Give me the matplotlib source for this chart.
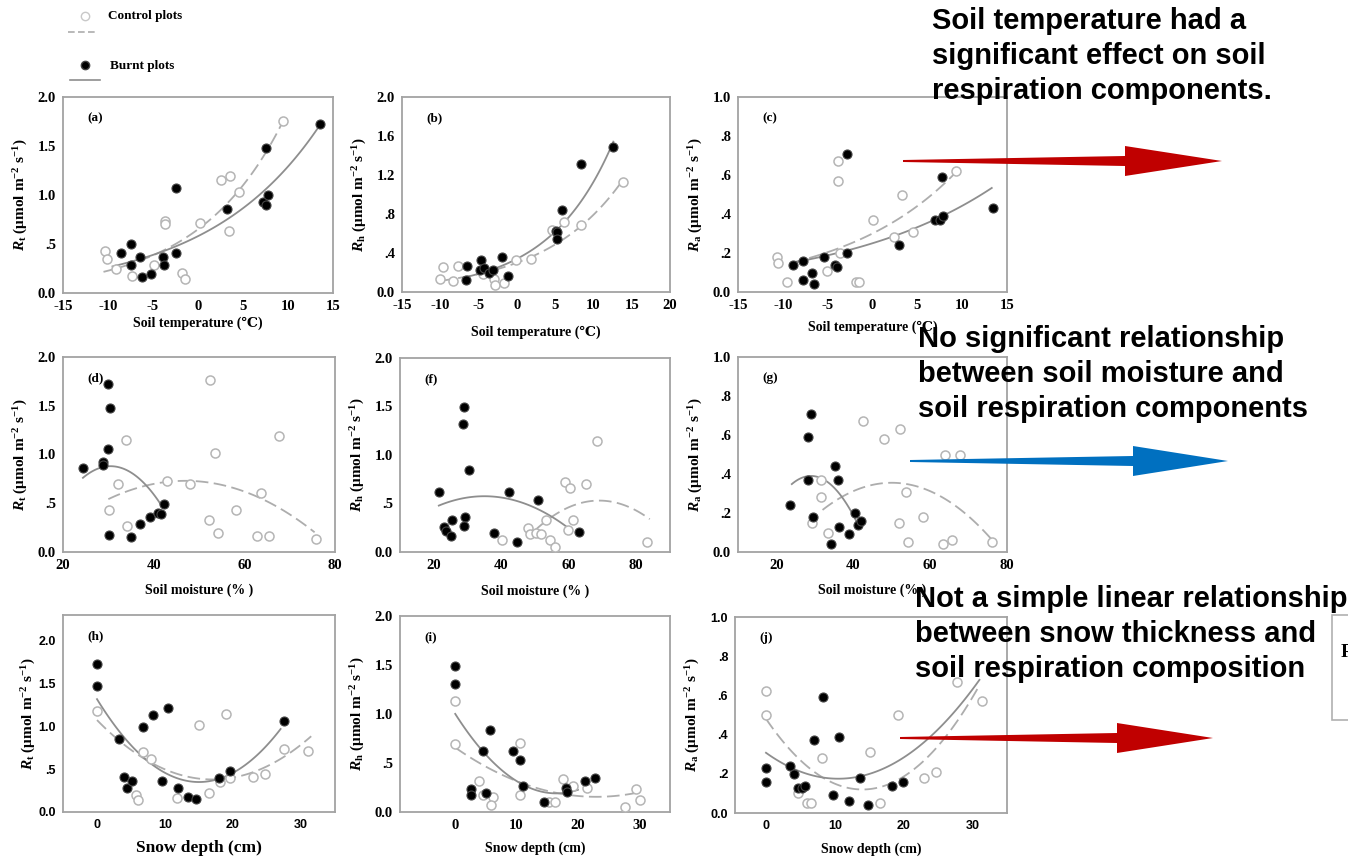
import numpy as np
import matplotlib.pyplot as plt
from matplotlib.lines import Line2D
from matplotlib.patches import Polygon, Rectangle

plt.rcParams['mathtext.fontset'] = 'custom'
plt.rcParams['mathtext.rm'] = 'Liberation Serif:bold'
plt.rcParams['mathtext.it'] = 'Liberation Serif:italic:bold'
plt.rcParams['mathtext.bf'] = 'Liberation Serif:bold'

W, H = 1348, 861
SERIF = ['Liberation Serif', 'DejaVu Serif']
SANS = ['Liberation Sans', 'DejaVu Sans']

# ---- soil temperature panels (a)-(c) ----
a_ctrl_x = [9.4, 2.5, 3.5, 4.6, 3.4, 0.2, -3.7, -3.7, -10.3, -10.1, -9.1, -7.3, -4.9, -1.8, -1.5]
a_ctrl_y = [1.76, 1.15, 1.19, 1.03, 0.63, 0.71, 0.73, 0.70, 0.43, 0.35, 0.24, 0.17, 0.29, 0.20, 0.14]
a_burn_x = [13.5, 7.5, -2.5, 3.2, 7.2, 7.6, 7.8, -8.6, -7.4, -7.5, -6.5, -6.2, -5.2, -3.9, -3.8, -2.5]
a_burn_y = [1.72, 1.48, 1.07, 0.86, 0.93, 0.90, 1.00, 0.41, 0.50, 0.29, 0.37, 0.16, 0.19, 0.37, 0.29, 0.41]

b_ctrl_x = [13.9, 8.4, 6.1, 4.6, 1.9, -0.1, -9.7, -7.7, -10.0, -8.4, -4.4, -3.0, -2.8, -1.7]
b_ctrl_y = [1.13, 0.69, 0.72, 0.64, 0.34, 0.33, 0.26, 0.27, 0.13, 0.11, 0.18, 0.13, 0.07, 0.09]
b_burn_x = [12.6, 8.4, 5.9, 5.1, 5.3, 5.3, -6.5, -6.7, -4.7, -4.8, -4.3, -3.6, -3.1, -2.0, -1.2]
b_burn_y = [1.49, 1.31, 0.84, 0.63, 0.62, 0.54, 0.27, 0.12, 0.33, 0.23, 0.25, 0.20, 0.23, 0.36, 0.16]

c_ctrl_x = [-3.8, -3.8, 9.3, 3.3, 0.1, 2.4, 4.5, -10.7, -10.5, -9.5, -5.1, -3.6, -1.8, -1.5]
c_ctrl_y = [0.67, 0.57, 0.62, 0.50, 0.37, 0.28, 0.31, 0.18, 0.15, 0.05, 0.11, 0.20, 0.05, 0.05]
c_burn_x = [-2.8, 7.7, 13.4, 7.0, 7.5, 7.9, 2.9, -2.8, -5.4, -7.7, -8.9, -4.2, -4.0, -6.8, -7.7, -6.5]
c_burn_y = [0.71, 0.59, 0.43, 0.37, 0.37, 0.39, 0.24, 0.20, 0.18, 0.16, 0.14, 0.14, 0.13, 0.10, 0.06, 0.04]

# ---- soil moisture panels (d), (f), (g) ----
d_ctrl_x = [52.5, 53.5, 67.7, 33.8, 32.2, 43.0, 48.1, 63.7, 30.2, 58.1, 52.3, 54.2, 62.9, 65.5, 75.8, 34.1]
d_ctrl_y = [1.76, 1.02, 1.19, 1.15, 0.70, 0.73, 0.70, 0.61, 0.43, 0.43, 0.33, 0.20, 0.16, 0.16, 0.13, 0.27]
d_burn_x = [24.4, 28.8, 28.9, 29.9, 29.9, 30.3, 30.2, 35.1, 36.9, 39.1, 41.0, 41.7, 42.2]
d_burn_y = [0.86, 0.92, 0.89, 1.06, 1.72, 1.48, 0.17, 0.15, 0.29, 0.36, 0.40, 0.39, 0.49]

f_ctrl_x = [68.3, 58.8, 60.3, 65.2, 61.2, 53.4, 40.2, 48.0, 48.4, 50.2, 51.7, 54.4, 55.8, 59.7, 83.1]
f_ctrl_y = [1.14, 0.72, 0.66, 0.70, 0.33, 0.33, 0.12, 0.25, 0.19, 0.20, 0.19, 0.12, 0.05, 0.23, 0.10]
f_burn_x = [29.1, 28.6, 30.5, 21.5, 42.4, 50.9, 29.3, 29.1, 25.4, 22.9, 23.6, 25.2, 37.8, 44.7, 63.1]
f_burn_y = [1.49, 1.32, 0.85, 0.62, 0.62, 0.54, 0.36, 0.27, 0.33, 0.26, 0.22, 0.16, 0.20, 0.10, 0.21]

g_ctrl_x = [42.6, 47.9, 52.1, 63.8, 67.8, 31.5, 31.5, 53.6, 52.0, 58.1, 29.3, 33.5, 54.2, 63.4, 65.8, 76.0]
g_ctrl_y = [0.67, 0.58, 0.63, 0.50, 0.50, 0.37, 0.28, 0.31, 0.15, 0.18, 0.15, 0.10, 0.05, 0.04, 0.06, 0.05]
g_burn_x = [29.1, 28.2, 28.1, 35.3, 35.9, 23.5, 29.5, 36.4, 34.3, 38.8, 40.4, 41.1, 41.9]
g_burn_y = [0.71, 0.59, 0.37, 0.44, 0.37, 0.24, 0.18, 0.13, 0.04, 0.09, 0.20, 0.14, 0.16]

# ---- snow depth panels (h)-(j) ----
h_ctrl_x = [0.0, 15.0, 19.0, 6.7, 8.0, 5.7, 6.1, 11.8, 16.5, 18.1, 19.6, 22.9, 24.7, 27.5, 31.1]
h_ctrl_y = [1.18, 1.02, 1.15, 0.70, 0.62, 0.20, 0.14, 0.16, 0.22, 0.35, 0.40, 0.41, 0.44, 0.73, 0.71]
h_burn_x = [0.0, 0.0, 3.3, 3.9, 4.4, 5.2, 6.8, 8.3, 10.4, 9.6, 11.9, 13.4, 14.6, 18.0, 19.6, 27.5]
h_burn_y = [1.73, 1.47, 0.85, 0.41, 0.28, 0.36, 0.99, 1.13, 1.22, 0.36, 0.28, 0.18, 0.15, 0.40, 0.48, 1.06]

i_ctrl_x = [0.0, 0.0, 10.5, 3.8, 4.5, 6.1, 5.8, 10.6, 15.3, 16.2, 17.5, 19.2, 21.4, 29.5, 30.1, 27.7]
i_ctrl_y = [1.13, 0.69, 0.70, 0.32, 0.17, 0.15, 0.07, 0.17, 0.10, 0.10, 0.34, 0.27, 0.24, 0.23, 0.12, 0.05]
i_burn_x = [0.0, 0.0, 5.6, 4.5, 9.4, 10.5, 11.0, 2.5, 2.5, 5.0, 14.4, 18.1, 18.2, 21.2, 22.8]
i_burn_y = [1.49, 1.31, 0.84, 0.62, 0.62, 0.53, 0.27, 0.23, 0.17, 0.19, 0.10, 0.25, 0.20, 0.32, 0.35]

j_ctrl_x = [0.0, 0.0, 8.1, 15.1, 19.1, 27.7, 31.3, 23.0, 24.7, 4.6, 5.9, 6.5, 16.6]
j_ctrl_y = [0.62, 0.50, 0.28, 0.31, 0.50, 0.67, 0.57, 0.18, 0.21, 0.10, 0.05, 0.05, 0.05]
j_burn_x = [8.3, 10.6, 7.0, 0.0, 0.0, 3.5, 4.1, 4.6, 5.2, 5.6, 9.8, 12.0, 13.7, 14.8, 18.3, 19.9]
j_burn_y = [0.59, 0.39, 0.37, 0.23, 0.16, 0.24, 0.20, 0.13, 0.13, 0.14, 0.09, 0.06, 0.18, 0.04, 0.14, 0.16]

# fitted curves: exponential (a, b, xmin, xmax) -> a*exp(b*x)
a_ctrl_fit = (0.65, 0.105, -10.5, 9.4)
a_burn_fit = (0.58, 0.080, -9.5, 13.4)
b_ctrl_fit = (0.30, 0.097, -10.0, 14.0)
b_burn_fit = (0.34, 0.120, -7.0, 12.6)
c_ctrl_fit = (0.30, 0.077, -9.0, 9.2)
c_burn_fit = (0.25, 0.057, -9.0, 13.3)
# quadratic (vertex x, vertex y, k, xmin, xmax) -> vy + k*(x - vx)**2
d_ctrl_fit = (47.0, 0.73, -0.00065, 30.0, 75.5)
d_burn_fit = (30.5, 0.88, -0.0032, 24.4, 42.0)
f_ctrl_fit = (69.0, 0.53, -0.00085, 50.0, 84.0)
f_burn_fit = (35.0, 0.575, -0.00053, 21.5, 60.5)
g_ctrl_fit = (50.0, 0.355, -0.00043, 32.0, 76.0)
g_burn_fit = (29.0, 0.39, -0.00167, 24.0, 41.0)
h_ctrl_fit = (17.0, 0.38, 0.0024, 0.0, 31.5)
h_burn_fit = (15.0, 0.35, 0.0043, 0.0, 27.0)
i_ctrl_fit = (23.0, 0.155, 0.00095, 0.0, 30.0)
i_burn_fit = (16.5, 0.19, 0.00298, 0.0, 20.0)
j_ctrl_fit = (14.0, 0.12, 0.00184, 0.0, 31.0)
j_burn_fit = (10.5, 0.175, 0.0012, 0.0, 31.0)


def exp_curve(p):
    a, b, x0, x1 = p
    x = np.linspace(x0, x1, 120)
    return x, a * np.exp(b * x)


def quad_curve(p):
    vx, vy, k, x0, x1 = p
    x = np.linspace(x0, x1, 120)
    return x, vy + k * (x - vx) ** 2


def fmt(v):
    s = f'{v:.1f}'
    return s[1:] if 0 < v < 1 else s


def fx(px):
    return px / W


def fy(py):
    return 1 - py / H


temp_lab = 'Soil temperature (\u2103)'
moist_lab = 'Soil moisture (% )'
snow_lab = 'Snow depth (cm)'


def ylab(sub):
    return r'$R_{\mathrm{' + sub + r'}}$ ($\mathrm{\mu}$mol m$^{\mathrm{-2}}$ s$^{\mathrm{-1}}$)'


t_ticks = [-15, -10, -5, 0, 5, 10, 15]
# xlg: gap in px from the axes bottom to the top of the x label
panels = [
    dict(tag='(a)', box=(63, 97, 333, 293), xlim=(-15, 15), xt=t_ticks, ylim=(0, 2), yt=[0, .5, 1, 1.5, 2],
         sub='t', xl=temp_lab, xlg=24, ctrl=(a_ctrl_x, a_ctrl_y), burn=(a_burn_x, a_burn_y),
         cfit=exp_curve(a_ctrl_fit), bfit=exp_curve(a_burn_fit)),
    dict(tag='(b)', box=(402, 97, 670, 292), xlim=(-15, 20), xt=t_ticks + [20], ylim=(0, 2),
         yt=[0, .4, .8, 1.2, 1.6, 2.0], sub='h', xl=temp_lab, xlg=34, ctrl=(b_ctrl_x, b_ctrl_y),
         burn=(b_burn_x, b_burn_y), cfit=exp_curve(b_ctrl_fit), bfit=exp_curve(b_burn_fit)),
    dict(tag='(c)', box=(738, 97, 1007, 292), xlim=(-15, 15), xt=t_ticks, ylim=(0, 1),
         yt=[0, .2, .4, .6, .8, 1.0], sub='a', xl=temp_lab, xlg=29, ctrl=(c_ctrl_x, c_ctrl_y),
         burn=(c_burn_x, c_burn_y), cfit=exp_curve(c_ctrl_fit), bfit=exp_curve(c_burn_fit)),
    dict(tag='(d)', box=(63, 357, 335, 552), xlim=(20, 80), xt=[20, 40, 60, 80], ylim=(0, 2),
         yt=[0, .5, 1, 1.5, 2], sub='t', xl=moist_lab, xlg=32, ctrl=(d_ctrl_x, d_ctrl_y),
         burn=(d_burn_x, d_burn_y), cfit=quad_curve(d_ctrl_fit), bfit=quad_curve(d_burn_fit)),
    dict(tag='(f)', box=(400, 358, 670, 552), xlim=(10, 90), xt=[20, 40, 60, 80], ylim=(0, 2),
         yt=[0, .5, 1, 1.5, 2], sub='h', xl=moist_lab, xlg=33, ctrl=(f_ctrl_x, f_ctrl_y),
         burn=(f_burn_x, f_burn_y), cfit=quad_curve(f_ctrl_fit), bfit=quad_curve(f_burn_fit)),
    dict(tag='(g)', box=(738, 357, 1007, 552), xlim=(10, 80), xt=[20, 40, 60, 80], ylim=(0, 1),
         yt=[0, .2, .4, .6, .8, 1.0], sub='a', xl=moist_lab, xlg=32, ctrl=(g_ctrl_x, g_ctrl_y),
         burn=(g_burn_x, g_burn_y), cfit=quad_curve(g_ctrl_fit), bfit=quad_curve(g_burn_fit)),
    dict(tag='(h)', box=(63, 615, 335, 812), xlim=(-5, 35), xt=[0, 10, 20, 30], ylim=(0, 2.3),
         yt=[0, .5, 1, 1.5, 2], sub='t', xl=snow_lab, xlg=28, ctrl=(h_ctrl_x, h_ctrl_y),
         burn=(h_burn_x, h_burn_y), cfit=quad_curve(h_ctrl_fit), bfit=quad_curve(h_burn_fit),
         sans=True, xlsize=12.5, ylg=25),
    dict(tag='(i)', box=(400, 616, 670, 812), xlim=(-9, 35), xt=[0, 10, 20, 30], ylim=(0, 2),
         yt=[0, .5, 1, 1.5, 2], sub='h', xl=snow_lab, xlg=30, ctrl=(i_ctrl_x, i_ctrl_y),
         burn=(i_burn_x, i_burn_y), cfit=quad_curve(i_ctrl_fit), bfit=quad_curve(i_burn_fit)),
    dict(tag='(j)', box=(735, 617, 1007, 813), xlim=(-4.5, 35), xt=[0, 10, 20, 30], ylim=(0, 1),
         yt=[0, .2, .4, .6, .8, 1.0], sub='a', xl=snow_lab, xlg=30, ctrl=(j_ctrl_x, j_ctrl_y),
         burn=(j_burn_x, j_burn_y), cfit=quad_curve(j_ctrl_fit), bfit=quad_curve(j_burn_fit), sans=True),
]

fig = plt.figure(figsize=(W / 100, H / 100), dpi=100)

frame_col = '#a3a3a3'
solid_col = '#8e8e8e'
dash_col = '#adadad'
open_col = '#b5b5b5'

for p in panels:
    l, t, r, b = p['box']
    ax = fig.add_axes([fx(l), fy(b), (r - l) / W, (b - t) / H])
    ax.set_xlim(*p['xlim'])
    ax.set_ylim(*p['ylim'])
    for s in ax.spines.values():
        s.set_color(frame_col)
        s.set_linewidth(1.3)

    ax.plot(*p['cfit'], color=dash_col, lw=1.3, dashes=(7, 3), zorder=2)
    ax.plot(*p['bfit'], color=solid_col, lw=1.3, zorder=2)
    ax.plot(*p['ctrl'], 'o', ms=6.5, mfc='white', mec=open_col, mew=1.1, zorder=3, clip_on=False)
    ax.plot(*p['burn'], 'o', ms=6.5, mfc='black', mec='#444444', mew=0.8, zorder=4, clip_on=False)

    tick_fam = SANS if p.get('sans') else SERIF
    tick_size = 9 if p.get('sans') else 10.5
    ax.set_xticks(p['xt'])
    ax.set_xticklabels([str(v) for v in p['xt']], family=tick_fam, weight='bold', fontsize=tick_size)
    ax.set_yticks(p['yt'])
    ax.set_yticklabels([fmt(v) for v in p['yt']], family=tick_fam, weight='bold', fontsize=tick_size)
    ax.tick_params(length=0, pad=5)

    ax.set_xlabel(p['xl'], family=SERIF, weight='bold', fontsize=p.get('xlsize', 10))
    ax.xaxis.set_label_coords(0.5, -p['xlg'] / (b - t))
    ax.set_ylabel(ylab(p['sub']), family=SERIF, weight='bold', fontsize=11)
    ax.yaxis.set_label_coords(-p.get('ylg', 33) / (r - l), 0.5)
    ax.text(24 / (r - l), 1 - 21 / (b - t), p['tag'], transform=ax.transAxes,
            family=SERIF, weight='bold', fontsize=9.5, ha='left', va='center')

# legend keys at the top left
fig.add_artist(Line2D([fx(85)], [fy(16)], marker='o', ms=6, mfc='white', mec='#c8c8c8',
                      mew=1.0, transform=fig.transFigure))
fig.add_artist(Line2D([fx(68), fx(97)], [fy(32), fy(32)], color=dash_col, lw=1.2, dashes=(4, 2),
                      transform=fig.transFigure))
fig.add_artist(Line2D([fx(85)], [fy(65)], marker='o', ms=6, mfc='black', mec='#444444',
                      transform=fig.transFigure))
fig.add_artist(Line2D([fx(70), fx(100)], [fy(80), fy(80)], color=solid_col, lw=1.2,
                      transform=fig.transFigure))
fig.text(fx(108), fy(16), 'Control plots', family=SERIF, weight='bold', fontsize=9.5, va='center')
fig.text(fx(110), fy(66), 'Burnt plots', family=SERIF, weight='bold', fontsize=9.5, va='center')

# commentary text blocks
notes = [
    (932, [29, 64, 99], ['Soil temperature had a', 'significant effect on soil', 'respiration components.']),
    (918, [347, 382, 417], ['No significant relationship', 'between soil moisture and',
                            'soil respiration components']),
    (915, [607, 642, 677], ['Not a simple linear relationship', 'between snow thickness and',
                            'soil respiration composition']),
]
for x0, ys, lines in notes:
    for yb, line in zip(ys, lines):
        fig.text(fx(x0), fy(yb), line, family=SANS, weight='bold', fontsize=21, va='baseline', ha='left')


def add_arrow(x0, xb, x1, y, color):
    pts = [(x0, y - 1), (xb, y - 5), (xb, y - 15), (x1, y), (xb, y + 15), (xb, y + 5), (x0, y + 1)]
    fig.add_artist(Polygon([(fx(a), fy(b)) for a, b in pts], closed=True, facecolor=color,
                           edgecolor='none', transform=fig.transFigure))


add_arrow(903, 1125, 1222, 161, '#c00000')
add_arrow(910, 1133, 1228, 461, '#0070c0')
add_arrow(900, 1117, 1213, 738, '#c00000')

# edge of a neighbouring box, cut off at the right
fig.add_artist(Rectangle((fx(1332), fy(720)), 40 / W, 105 / H, facecolor='white', edgecolor='#b0b0b0',
                         lw=1.2, transform=fig.transFigure))
fig.text(fx(1341), fy(657), 'R', family=SERIF, weight='bold', fontsize=14, va='baseline')

fig.savefig('out.png', dpi=100)
